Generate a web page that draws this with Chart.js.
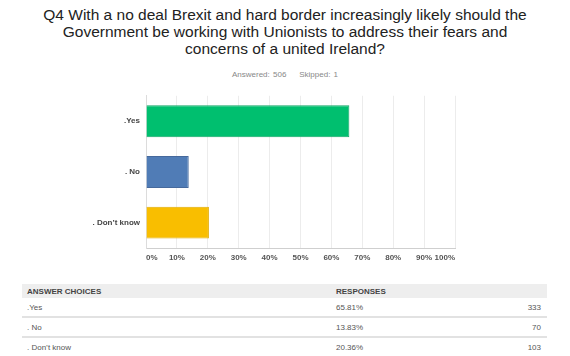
<!DOCTYPE html>
<html><head><meta charset="utf-8">
<script src="https://cdn.jsdelivr.net/npm/chart.js@4/dist/chart.umd.min.js"></script>
<style>
html,body{margin:0;padding:0;background:#fff;width:570px;height:356px;overflow:hidden;font-family:"Liberation Sans",Arial,sans-serif;}
#title{position:absolute;left:0;top:6px;width:570px;text-align:center;font-size:15.5px;line-height:17px;color:#222;}
#sub{position:absolute;left:0;top:70px;width:570px;text-align:center;font-size:8px;color:#888;word-spacing:1px;}
#wrap{position:absolute;left:0;top:85px;width:570px;height:190px;}
table{position:absolute;left:22px;top:284px;width:525px;border-collapse:collapse;font-size:8px;color:#555;table-layout:fixed;}
th{background:#eeeeee;text-align:left;font-weight:bold;height:14px;padding:0 0 0 5px;color:#444;}
td{height:17px;padding:1px 0 0 5px;border-bottom:2px solid #e2e2e2;}
td.n{text-align:right;padding-right:6px;}
</style></head><body>
<div id="title">Q4 With a no deal Brexit and hard border increasingly likely should the<br>Government be working with Unionists to address their fears and<br>concerns of a united Ireland?</div>
<div id="sub">Answered: 506&nbsp;&nbsp;&nbsp;&nbsp;Skipped: 1</div>
<div id="wrap"><canvas id="c" width="570" height="190"></canvas></div>
<table id="t"><colgroup><col style="width:309px"><col style="width:110px"><col></colgroup><thead><tr><th>ANSWER CHOICES</th><th>RESPONSES</th><th></th></tr></thead><tbody id="tb"></tbody></table>
<script>
const categories = [".Yes", ". No", ". Don\u2019t know"];
const percentages = [65.81, 13.83, 20.36];
const counts = [333, 70, 103];
const barColors = ["#00BF6F", "#507CB6", "#F9BE00"];
const xTicks = [0, 10, 20, 30, 40, 50, 60, 70, 80, 90, 100];

const tb = document.getElementById('tb');
categories.forEach((c, i) => {
  const tr = document.createElement('tr');
  tr.innerHTML = '<td>' + c + '</td><td>' + percentages[i].toFixed(2) + '%</td><td class="n">' + counts[i] + '</td>';
  tb.appendChild(tr);
});

new Chart(document.getElementById('c'), {
  type: 'bar',
  data: {
    labels: categories,
    datasets: [{
      data: percentages,
      backgroundColor: barColors,
      borderColor: ["#10a565", "#46699c", "#e0ab00"],
      borderWidth: 1,
      categoryPercentage: 1,
      barPercentage: 0.63
    }]
  },
  options: {
    indexAxis: 'y',
    responsive: false,
    animation: false,
    layout: { padding: { top: 8, right: 115, left: 0, bottom: 0 } },
    plugins: { legend: { display: false }, tooltip: { enabled: false } },
    scales: {
      x: {
        min: 0, max: 100,
        afterBuildTicks: s => { s.ticks = xTicks.map(v => ({ value: v })); },
        afterFit: s => { s.height = 27; },
        grid: { color: '#ececec', drawTicks: false },
        border: { color: '#cfcfcf' },
        ticks: { padding: 5, align: 'inner', color: '#555', font: { family: 'Liberation Sans', size: 8, weight: 'bold' }, callback: v => v + '%' }
      },
      y: {
        afterFit: s => { s.width = 146; },
        grid: { display: false, drawTicks: false },
        border: { color: '#dcdcdc' },
        ticks: { padding: 6, color: '#444', font: { family: 'Liberation Sans', size: 8, weight: 'bold' } }
      }
    }
  }
});
</script>
</body></html>
